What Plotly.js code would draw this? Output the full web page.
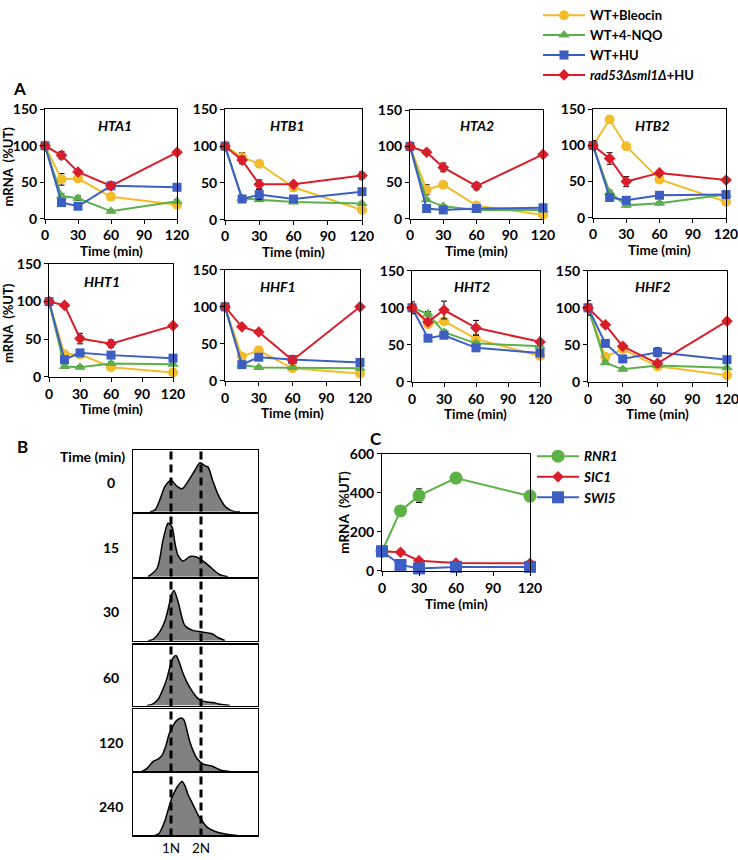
<!DOCTYPE html>
<html><head><meta charset="utf-8">
<script src="https://cdn.plot.ly/plotly-3.0.1.min.js"></script>
<style>html,body{margin:0;padding:0;background:#fff}#chart{width:738px;height:860px}</style>
</head><body><div id="chart"></div>
<script>
// ---------- DATA ----------
const timePoints = [0, 15, 30, 60, 120];
const timeTicks = [0, 30, 60, 90, 120];
const seriesNames = ['WT+Bleocin', 'WT+4-NQO', 'WT+HU', '<i>rad53Δsml1Δ</i>+HU'];
const genes = ['HTA1', 'HTB1', 'HTA2', 'HTB2', 'HHT1', 'HHF1', 'HHT2', 'HHF2'];

// [Bleocin, 4-NQO, HU, rad53sml1+HU]
const HTA1 = [[100,54,55,30,19],[100,31,28,10,24],[100,22,17,45,43],[100,87,64,45,91]];
const HTB1 = [[100,85,76,44,13],[100,29,27,24,22],[100,28,34,28,38],[100,81,48,48,60]];
const HTA2 = [[100,40,47,18,5],[100,26,17,12,12],[100,14,12,14,15],[100,92,71,45,89]];
const HTB2 = [[100,136,99,53,22],[100,35,17,20,32],[100,28,24,31,32],[100,82,50,62,52]];
const HHT1 = [[100,30,30,13,6],[100,14,13,18,17],[100,23,32,29,25],[100,95,51,44,68]];
const HHF1 = [[100,33,41,17,10],[100,22,18,18,17],[100,22,32,29,25],[100,73,66,28,100]];
const HHT2 = [[100,78,82,58,35],[100,92,67,52,48],[100,59,63,46,39],[100,81,97,73,54]];
const HHF2 = [[100,34,44,21,9],[100,26,17,22,19],[100,52,31,40,30],[100,77,48,25,82]];

const HTA1_err = [[5,8,3,2,2],[3,3,3,2,2],[3,3,3,5,3],[3,5,3,3,2]];
const HTB1_err = [[5,6,3,5,2],[3,2,2,2,2],[5,2,7,3,3],[3,5,6,3,5]];
const HTA2_err = [[6,7,3,2,1],[3,2,2,2,2],[5,2,2,2,2],[3,3,6,5,2]];
const HTB2_err = [[5,3,3,3,2],[2,3,2,2,2],[7,2,2,2,2],[3,8,7,2,2]];
const HHT1_err = [[3,3,3,2,1],[2,2,2,2,2],[3,3,3,3,2],[3,2,7,5,2]];
const HHF1_err = [[3,3,5,2,2],[2,2,2,2,2],[3,2,3,2,2],[2,2,3,3,2]];
const HHT2_err = [[5,3,3,6,3],[3,3,3,2,2],[3,3,3,3,3],[8,3,12,10,2]];
const HHF2_err = [[5,3,3,2,2],[3,2,2,2,2],[10,3,3,6,2],[3,2,3,2,2]];

// Panel C
const cNames = ['RNR1', 'SIC1', 'SWI5'];
const RNR1 = [100, 307, 385, 475, 383];
const SIC1 = [100, 95, 52, 40, 38];
const SWI5 = [100, 30, 12, 20, 20];
const RNR1_err = [5, 10, 35, 8, 8];
const SIC1_err = [3, 3, 3, 3, 3];
const SWI5_err = [3, 3, 3, 3, 3];

// Panel B: DNA-content histograms (channel, relative count)
const histTimes = ['0', '15', '30', '60', '120', '240'];
const ploidyPos = [38, 68];
const ploidyLabels = ['1N', '2N'];
const hist0_x = [17,22,27,32,38,44,49,55,62,67,72,75,80,85,92,100,107];
const hist0_y = [0,0.03,0.2,0.41,0.51,0.41,0.37,0.49,0.67,0.79,0.74,0.72,0.49,0.28,0.09,0.01,0];
const hist15_x = [15,24,30,34,35,39,42,45,50,57,64,70,79,87,95];
const hist15_y = [0,0.13,0.58,0.82,0.85,0.79,0.53,0.34,0.25,0.32,0.31,0.25,0.13,0.03,0];
const hist30_x = [15,20,27,32,36,39,41,45,49,52,59,69,79,85,92];
const hist30_y = [0,0.02,0.15,0.32,0.57,0.76,0.81,0.63,0.37,0.24,0.17,0.14,0.11,0.05,0];
const hist60_x = [14,19,25,30,34,37,40,43,46,50,54,59,64,68,74,80,87,97];
const hist60_y = [0,0.02,0.1,0.27,0.45,0.64,0.78,0.82,0.72,0.53,0.38,0.24,0.13,0.08,0.06,0.05,0.02,0];
const hist120_x = [9,14,20,25,29,33,36,39,42,46,49,51,54,57,61,64,70,75,80,85,90,97];
const hist120_y = [0,0.05,0.16,0.2,0.26,0.42,0.6,0.7,0.79,0.85,0.86,0.83,0.66,0.47,0.3,0.21,0.12,0.1,0.08,0.04,0.01,0];
const hist240_x = [22,26,29,32,36,39,42,45,49,52,55,59,62,66,69,73,77,83,90,97,104];
const hist240_y = [0,0.03,0.12,0.24,0.46,0.61,0.72,0.8,0.87,0.8,0.66,0.53,0.43,0.3,0.24,0.15,0.1,0.06,0.03,0.01,0];

// ---------- LAYOUT HELPERS ----------
const W = 738, H = 860;
const px = a => a / W;
const py = b => 1 - b / H;
const FONT = 'Lato, "Open Sans", sans-serif';
const colors = ['#F2BC2B', '#5DAF4C', '#3D5FC4', '#D91E2B'];
const symbols = ['circle', 'triangle-up', 'square', 'diamond'];
const msizes = [10, 10, 9, 9];

const geneVals = [HTA1, HTB1, HTA2, HTB2, HHT1, HHF1, HHT2, HHF2];
const geneErrs = [HTA1_err, HTB1_err, HTA2_err, HTB2_err, HHT1_err, HHF1_err, HHT2_err, HHF2_err];
const boxesA = [[45,177,97,208],[225,362,97,209],[410,543,98,208],[593,726,97,207],
                [49,173,254,369],[225,360,260,373],[412,540,261,374],[588,727,261,374]];
const titlePos = [[115,113],[287,113],[477,113],[652,113],[102,272],[278,277],[472,277],[653,277]];

const tickFont = {family: FONT, size: 14, color: '#000', weight: 'bold'};
const traces = [];
const layout = {
  width: W, height: H, margin: {l: 0, r: 0, t: 0, b: 0},
  paper_bgcolor: '#fff', plot_bgcolor: '#fff', showlegend: true,
  annotations: [], shapes: [],
  legend: {x: px(538), y: py(-14), xanchor: 'left', yanchor: 'top', itemwidth: 42,
           font: {family: FONT, size: 13, color: '#000', weight: 'bold'}, bgcolor: 'rgba(0,0,0,0)', tracegroupgap: 0},
  legend2: {x: px(532), y: py(434), xanchor: 'left', yanchor: 'top', itemwidth: 42,
           font: {family: FONT, size: 13.5, color: '#000', weight: 'bold', style: 'italic'}, bgcolor: 'rgba(0,0,0,0)'}
};

function axisBase() {
  return {showline: true, mirror: true, linecolor: '#000', linewidth: 1, showgrid: false, zeroline: false,
          ticks: 'outside', ticklen: 4, tickcolor: '#000', tickfont: tickFont, fixedrange: true,
          ticklabeloverflow: 'allow'};
}
function ann(text, x, y, opts) {
  layout.annotations.push(Object.assign({text: text, x: px(x), y: py(y), xref: 'paper', yref: 'paper',
    showarrow: false, xanchor: 'center', yanchor: 'middle',
    font: {family: FONT, size: 13.5, color: '#000', weight: 'bold'}}, opts || {}));
}

// ---------- PANEL A ----------
genes.forEach((g, i) => {
  const sfx = i === 0 ? '' : String(i + 1);
  const b = boxesA[i];
  layout['xaxis' + sfx] = Object.assign(axisBase(), {domain: [px(b[0]), px(b[1])], range: [0, 120],
     tickvals: timeTicks, anchor: 'y' + sfx});
  layout['yaxis' + sfx] = Object.assign(axisBase(), {domain: [py(b[3]), py(b[2])], range: [0, 150],
     tickvals: [0, 50, 100, 150], anchor: 'x' + sfx});
  for (let s = 0; s < 4; s++) {
    traces.push({
      x: timePoints, y: geneVals[i][s], name: seriesNames[s],
      xaxis: 'x' + sfx, yaxis: 'y' + sfx, mode: 'lines+markers', cliponaxis: false,
      line: {color: colors[s], width: 2},
      marker: {symbol: symbols[s], size: msizes[s], color: colors[s]},
      error_y: {type: 'data', array: geneErrs[i][s], visible: true, color: '#000', thickness: 1, width: 3},
      showlegend: i === 0, legend: 'legend'
    });
  }
  ann('<i>' + g + '</i>', titlePos[i][0], titlePos[i][1], {font: {family: FONT, size: 14, color: '#000', weight: 'bold'}});
  ann('Time (min)', (b[0] + b[1]) / 2, b[3] + 33);
});
ann('mRNA  (%UT)', 8, 155, {textangle: -90, font: {family: FONT, size: 13, color: '#000', weight: 'bold'}});
ann('mRNA  (%UT)', 8, 314, {textangle: -90, font: {family: FONT, size: 13, color: '#000', weight: 'bold'}});

// ---------- PANEL B ----------
const histX = [hist0_x, hist15_x, hist30_x, hist60_x, hist120_x, hist240_x];
const histY = [hist0_y, hist15_y, hist30_y, hist60_y, hist120_y, hist240_y];
const histBoxes = [[443,506],[508,572],[574,637],[641,703],[707,770],[772,835]];
histTimes.forEach((t, k) => {
  const n = 10 + k;
  const hb = histBoxes[k];
  layout['xaxis' + n] = {domain: [px(133), px(258)], range: [0, 125], anchor: 'y' + n,
    showline: true, mirror: true, linecolor: '#000', linewidth: 1.2, showgrid: false, zeroline: false,
    ticks: '', showticklabels: k === 5, tickvals: ploidyPos, ticktext: ploidyLabels,
    tickfont: {family: FONT, size: 13.5, color: '#000'}, fixedrange: true};
  layout['yaxis' + n] = {domain: [py(hb[1]), py(hb[0])], range: [0, 1], anchor: 'x' + n,
    showline: true, mirror: true, linecolor: '#000', linewidth: 1.2, showgrid: false, zeroline: false,
    showticklabels: false, ticks: '', fixedrange: true};
  traces.push({x: histX[k], y: histY[k], xaxis: 'x' + n, yaxis: 'y' + n, mode: 'lines',
    line: {color: '#000', width: 1.5, shape: 'spline', smoothing: 0.8},
    fill: 'tozeroy', fillcolor: '#808080', showlegend: false, hoverinfo: 'skip'});
  ann(t, 111, (hb[0] + hb[1]) / 2 + 2, {font: {family: FONT, size: 14, color: '#000', weight: 'bold'}});
});
ann('Time (min)', 92, 450, {font: {family: FONT, size: 14, color: '#000', weight: 'bold'}});
ploidyPos.forEach(p => {
  layout.shapes.push({type: 'line', xref: 'x10', yref: 'paper', x0: p, x1: p, y0: py(836), y1: py(442),
    line: {color: '#000', width: 3, dash: '8px,5px'}});
});

// ---------- PANEL C ----------
layout.xaxis9 = Object.assign(axisBase(), {domain: [px(382), px(530)], range: [0, 120], tickvals: timeTicks, anchor: 'y9'});
layout.yaxis9 = Object.assign(axisBase(), {domain: [py(566), py(447)], range: [0, 600], tickvals: [0, 200, 400, 600], anchor: 'x9'});
const cVals = [RNR1, SIC1, SWI5];
const cErrs = [RNR1_err, SIC1_err, SWI5_err];
const cColors = ['#5DB246', '#D91E2B', '#3D5FC4'];
const cSymbols = ['circle', 'diamond', 'square'];
const cSizes = [13, 9, 12];
cNames.forEach((nm, j) => {
  traces.push({x: timePoints, y: cVals[j], name: nm, xaxis: 'x9', yaxis: 'y9', mode: 'lines+markers',
    cliponaxis: false, line: {color: cColors[j], width: 2},
    marker: {symbol: cSymbols[j], size: cSizes[j], color: cColors[j]},
    error_y: {type: 'data', array: cErrs[j], visible: true, color: '#000', thickness: 1, width: 3},
    legend: 'legend2', showlegend: true});
});
ann('Time (min)', 456, 600);
ann('mRNA  (%UT)', 344, 507, {textangle: -90});

// Panel letters
ann('A', 19, 76, {font: {family: FONT, size: 17, color: '#000', weight: 'bold'}});
ann('B', 22, 440, {font: {family: FONT, size: 17, color: '#000', weight: 'bold'}});
ann('C', 376, 432, {font: {family: FONT, size: 17, color: '#000', weight: 'bold'}});

Plotly.newPlot('chart', traces, layout, {displayModeBar: false, staticPlot: true});
</script>
</body></html>
